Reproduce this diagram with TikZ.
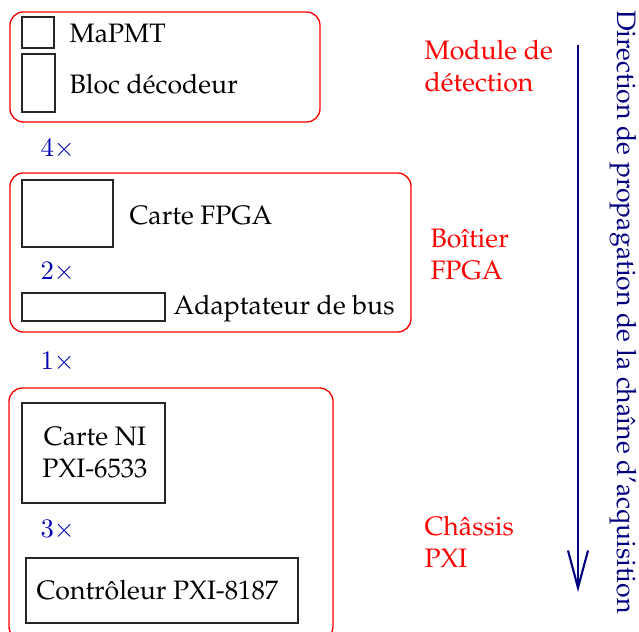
\documentclass[tikz,border=0pt]{standalone}
\usepackage[T1]{fontenc}
\usepackage{palatino}
\usetikzlibrary{arrows.meta}

\begin{document}
\begin{tikzpicture}[x=0.375pt, y=-0.375pt,
    every node/.style={inner sep=0pt, font=\fontsize{10}{12}\selectfont},
    groupe/.style={draw=red, line width=0.5pt, rounded corners=5pt},
    carte/.style={draw=black!85, line width=0.5pt},
    nom/.style={anchor=base west},
    titre/.style={text=red, align=left, anchor=base west},
    mult/.style={text=blue!70!black, anchor=base west},
    sens/.style={draw=blue!50!black, line width=0.8pt, -{Straight Barb[length=14pt, width=7.5pt]}}]
    \useasboundingbox (0,0) rectangle (639,632);

    \draw[groupe] (10,12) rectangle (320,122);
    \draw[groupe] (10,173) rectangle (411,332);
    \draw[groupe] (9,388) rectangle (333,640);

    \draw[carte] (22,17) rectangle (54,48);
    \draw[carte] (22,54) rectangle (55,112);
    \draw[carte] (22,180) rectangle (113,247);
    \draw[carte] (22,293) rectangle (165,321);
    \draw[carte] (22,403) rectangle (165,503);
    \draw[carte] (26,558) rectangle (298,623);

    \node[nom] (mapmt) at (69,43) {MaPMT};
    \node[nom] (decodeur) at (69,94) {Bloc décodeur};
    \node[nom] (fpga) at (129,225) {Carte FPGA};
    \node[nom] (adaptateur) at (173,315) {Adaptateur de bus};
    \node[anchor=base, align=center] (ni) at (95,478) {Carte NI\\PXI-6533};
    \node[nom] (controleur) at (36,600) {Contrôleur PXI-8187};

    \node[mult] (n4) at (40,157) {$4\times$};
    \node[mult] (n2) at (40,280) {$2\times$};
    \node[mult] (n1) at (40,370) {$1\times$};
    \node[mult] (n3) at (40,538) {$3\times$};

    \node[titre] (module) at (424,92) {Module de\\détection};
    \node[titre] (boitier) at (430,280) {Boîtier\\FPGA};
    \node[titre] (chassis) at (424,568) {Châssis\\PXI};

    % sens de la chaine
    \coordinate (haut) at (578,45);
    \coordinate (bas) at (578,592);
    \draw[sens] (haut) -- (bas);
    \node[rotate=-90, text=blue!50!black] (direction) at (623,312)
        {Direction de propagation de la chaîne d'acquisition};
\end{tikzpicture}
\end{document}
